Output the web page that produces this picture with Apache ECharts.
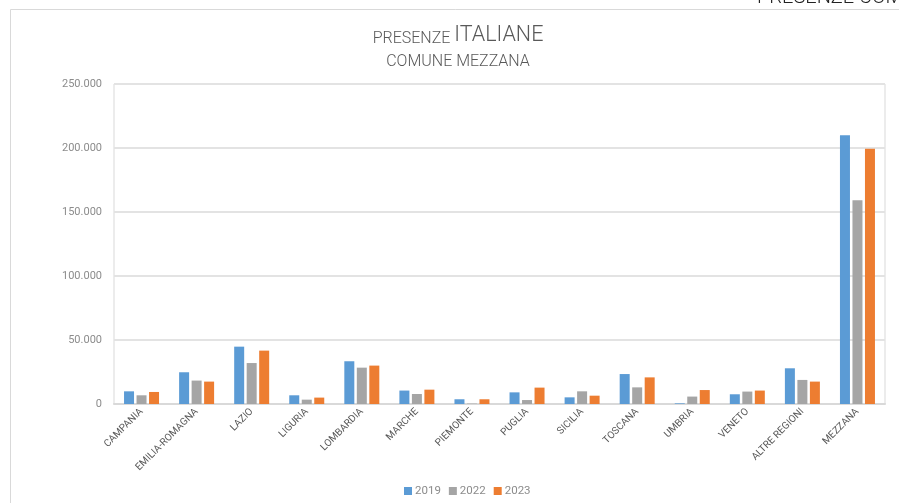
<!DOCTYPE html>
<html>
<head>
<meta charset="utf-8">
<script src="https://cdn.jsdelivr.net/npm/echarts@6/dist/echarts.min.js"></script>
<style>html,body{margin:0;padding:0;background:#fff;}#c{width:899px;height:503px;}</style>
</head>
<body>
<div id="c"></div>
<script>
const categories = ['CAMPANIA','EMILIA-ROMAGNA','LAZIO','LIGURIA','LOMBARDIA','MARCHE','PIEMONTE','PUGLIA','SICILIA','TOSCANA','UMBRIA','VENETO','ALTRE REGIONI','MEZZANA'];
const seriesNames = ['2019','2022','2023'];
const values2019 = [9900,24800,44800,6800,33400,10500,3700,9100,5200,23400,500,7600,27900,210000];
const values2022 = [6800,18300,32000,3400,28400,7800,300,3100,9900,13000,5800,9700,18800,159100];
const values2023 = [9400,17500,41700,5000,30000,11200,3700,12800,6500,20800,10900,10500,17500,199500];
const yTicks = [0,50000,100000,150000,200000,250000];

const colors = ['#5B9BD5','#A5A5A5','#ED7D31'];
const font = 'Roboto, "Open Sans", sans-serif';
const chart = echarts.init(document.getElementById('c'));
const fmt = v => String(v).replace(/\B(?=(\d{3})+(?!\d))/g, '.');
const data = [values2019, values2022, values2023];
chart.setOption({
  animation: false,
  color: colors,
  graphic: [{
    type: 'rect', shape: { x: 10.5, y: 9.5, width: 1000, height: 600 },
    style: { fill: 'none', stroke: '#d9d9d9', lineWidth: 1 }, silent: true, z: -1
  }, {
    type: 'text', x: 458, y: 47,
    style: { text: '{a|PRESENZE }{b|ITALIANE}', align: 'center', verticalAlign: 'bottom',
      rich: {
        a: { fontSize: 16, fill: '#595959', fontFamily: font, fontWeight: 300, verticalAlign: 'bottom' },
        b: { fontSize: 21.5, fill: '#595959', fontFamily: font, fontWeight: 300, verticalAlign: 'bottom' }
      } }
  }, {
    type: 'text', x: 458, y: 62,
    style: { text: 'COMUNE MEZZANA', align: 'center', verticalAlign: 'middle', fontSize: 16, fontWeight: 300, fill: '#595959', fontFamily: font }
  }, {
    type: 'text', left: 757, top: -12,
    style: { text: 'PRESENZE COMUNE', fontSize: 20, fontWeight: 300, fill: '#222', fontFamily: font }
  }],
  legend: {
    data: seriesNames, bottom: 1, left: 399, itemWidth: 8, itemHeight: 8, itemGap: 8,
    icon: 'rect', textStyle: { color: '#8c8c8c', fontSize: 11.5, fontFamily: font, padding: [0,0,0,-2] }
  },
  grid: { left: 114, right: 14, top: 84, bottom: 99, show: true, borderColor: '#d9d9d9', borderWidth: 1 },
  xAxis: {
    type: 'category', data: categories,
    axisLine: { lineStyle: { color: '#d9d9d9', width: 2 } },
    axisTick: { show: false },
    axisLabel: { rotate: 45, fontSize: 10, color: '#595959', fontFamily: font, interval: 0, margin: 6 }
  },
  yAxis: {
    type: 'value', min: 0, max: 250000, interval: 50000,
    axisLine: { show: false }, axisTick: { show: false },
    splitLine: { lineStyle: { color: '#e3e3e3', width: 2 } },
    axisLabel: { color: '#8c8c8c', fontSize: 11, fontFamily: font, margin: 12, formatter: v => yTicks.includes(v) ? fmt(v) : '' }
  },
  series: seriesNames.map((n, i) => ({
    name: n, type: 'bar', data: data[i], barWidth: 10, barGap: '25%',
    itemStyle: { color: colors[i] }
  }))
});
</script>
</body>
</html>
